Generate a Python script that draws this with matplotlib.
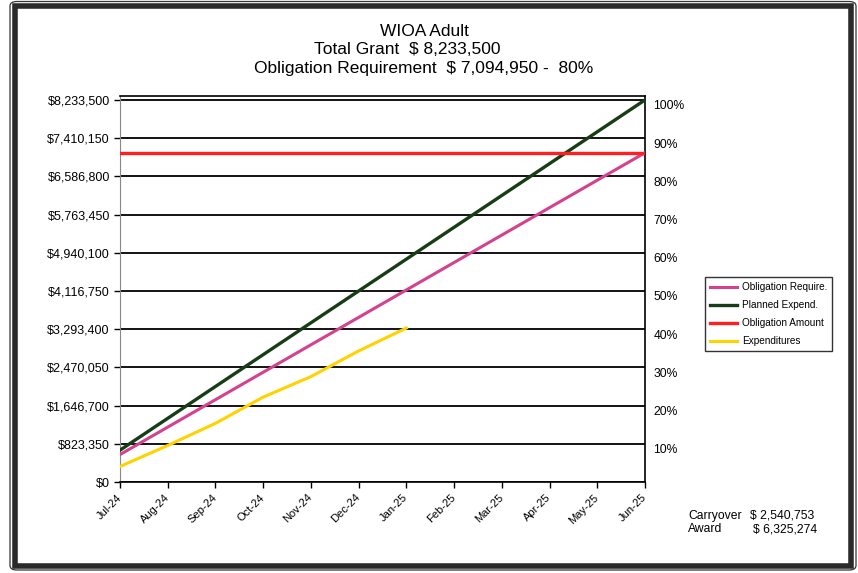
import matplotlib
matplotlib.use('Agg')
import matplotlib.pyplot as plt
import matplotlib.patches as patches
import matplotlib.transforms as mtransforms

plt.rcParams['font.family'] = ['Liberation Sans', 'DejaVu Sans']

months = ['Jul-24', 'Aug-24', 'Sep-24', 'Oct-24', 'Nov-24', 'Dec-24',
          'Jan-25', 'Feb-25', 'Mar-25', 'Apr-25', 'May-25', 'Jun-25']
total_grant = 8233500
obligation_amount = 7094950

obligation_require = [591246, 1182492, 1773738, 2364983, 2956229, 3547475,
                      4138721, 4729967, 5321213, 5912458, 6503704, 7094950]
planned_expend = [686125, 1372250, 2058375, 2744500, 3430625, 4116750,
                  4802875, 5489000, 6175125, 6861250, 7547375, 8233500]
obligation_line = [7094950] * 12
expenditures = [334000, 787000, 1264000, 1829000, 2271000, 2824000, 3318000]

y_ticks = [0, 823350, 1646700, 2470050, 3293400, 4116750,
           4940100, 5763450, 6586800, 7410150, 8233500]
pct_ticks = [0.1, 0.2, 0.3, 0.4, 0.5, 0.6, 0.7, 0.8, 0.9, 1.0]

W, H = 858, 573
fig = plt.figure(figsize=(W / 100, H / 100), dpi=100)


def fx(px):
    return px / W


def fy(py):
    return 1 - py / H


# outer double frame
fig.patches.append(patches.FancyBboxPatch(
    (fx(10), fy(570)), fx(856) - fx(10), fy(1.5) - fy(570),
    boxstyle='round,pad=0,rounding_size=0.008', transform=fig.transFigure,
    fill=False, edgecolor='#333333', linewidth=0.9))
fig.patches.append(patches.Rectangle(
    (fx(15.5), fy(565.5)), fx(851) - fx(15.5), fy(6) - fy(565.5),
    transform=fig.transFigure, fill=False, edgecolor='#2a2a2a', linewidth=4))

ax = fig.add_axes([fx(120), fy(482), fx(645) - fx(120), fy(95.7) - fy(482)])
x = list(range(len(months)))

l1, = ax.plot(x, obligation_require, color='#d4428d', lw=2.2, zorder=3)
l2, = ax.plot(x, planned_expend, color='#173d17', lw=2.4, zorder=3)
l3, = ax.plot(x, obligation_line, color='#ff1f1f', lw=2.4, zorder=3)
l4, = ax.plot(x[:len(expenditures)], expenditures, color='#ffd200', lw=2.2, zorder=3)

ax.set_xlim(0, 11)
ax.set_ylim(0, 8325000)
ax.set_yticks(y_ticks)
ax.set_yticklabels(['${:,}'.format(v) for v in y_ticks])
ax.set_xticks(x)
ax.set_xticklabels(months, rotation=45, ha='right', va='center',
                   rotation_mode='anchor')
ax.grid(axis='y', color='black', lw=1.3, zorder=1)
ax.set_axisbelow(True)
ax.tick_params(axis='y', direction='out', length=4.3, width=1, pad=3,
               labelsize=9)
ax.tick_params(axis='x', direction='out', length=4, width=1, pad=6,
               labelsize=8)
ax.spines['left'].set_color('#888888')
ax.spines['left'].set_linewidth(0.8)
ax.spines['right'].set_linewidth(1.2)
ax.spines['bottom'].set_linewidth(1.2)
ax.spines['top'].set_linewidth(1.2)

ax2 = ax.twinx()
ax2.set_ylim(0, 8325000 / total_grant)
ax2.set_yticks(pct_ticks)
ax2.set_yticklabels(['{:d}%'.format(int(round(p * 100))) for p in pct_ticks])
ax2.tick_params(axis='y', length=0, pad=6, labelsize=8.7)
shift = mtransforms.ScaledTranslation(0, -5 / 100, fig.dpi_scale_trans)
for lab in ax2.get_yticklabels():
    lab.set_transform(lab.get_transform() + shift)
for s in ax2.spines.values():
    s.set_visible(False)

# titles
fig.text(fx(424), fy(32), 'WIOA Adult', ha='center', va='center', fontsize=12.5)
fig.text(fx(407), fy(50), 'Total Grant  $ 8,233,500', ha='center', va='center',
         fontsize=12.5)
fig.text(fx(424), fy(69), 'Obligation Requirement  $ 7,094,950 -  80%',
         ha='center', va='center', fontsize=12.5)

leg = fig.legend([l1, l2, l3, l4],
                 ['Obligation Require.', 'Planned Expend.', 'Obligation Amount',
                  'Expenditures'],
                 loc='upper left', bbox_to_anchor=(fx(705), fy(277)),
                 fontsize=7.2, frameon=True, fancybox=False, handlelength=2.7,
                 handletextpad=0.5, labelspacing=0.8, borderpad=0.5,
                 borderaxespad=0)
leg.get_frame().set_edgecolor('black')
leg.get_frame().set_linewidth(1)

fig.text(fx(688), fy(516), 'Carryover', ha='left', va='center', fontsize=8.7)
fig.text(fx(750), fy(516), '$ 2,540,753', ha='left', va='center', fontsize=8.7)
fig.text(fx(688), fy(529), 'Award', ha='left', va='center', fontsize=8.7)
fig.text(fx(753), fy(529), '$ 6,325,274', ha='left', va='center', fontsize=8.7)

fig.savefig('out.png', dpi=100)
